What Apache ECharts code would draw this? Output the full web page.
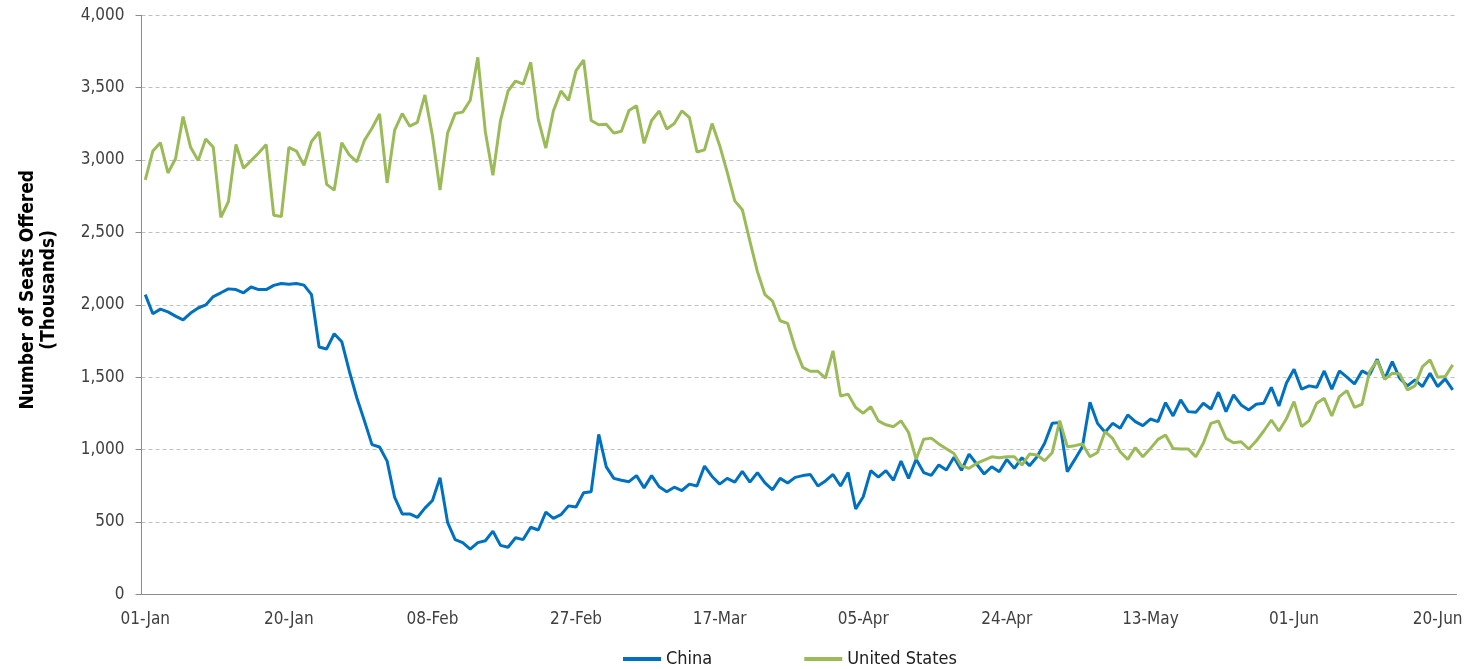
<!DOCTYPE html>
<html>
<head>
<meta charset="utf-8">
<title>Seats Offered</title>
<script src="https://cdn.jsdelivr.net/npm/echarts@6/dist/echarts.min.js"></script>
<style>
  html, body { margin: 0; padding: 0; background: #fff; }
  #chart { width: 1468px; height: 669px; }
</style>
</head>
<body>
<div id="chart"></div>
<script>
// daily, 01-Jan to 22-Jun (2020)
const startDate = [2020, 0, 1];
const dayCount = 174;
const monthNames = ['Jan', 'Feb', 'Mar', 'Apr', 'May', 'Jun', 'Jul', 'Aug', 'Sep', 'Oct', 'Nov', 'Dec'];

const china = [
  2070, 1938, 1970, 1951, 1922, 1896, 1943, 1978, 1999, 2057,
  2083, 2110, 2105, 2083, 2123, 2105, 2105, 2134, 2147, 2142,
  2147, 2136, 2070, 1708, 1695, 1800, 1745, 1541, 1356, 1198,
  1034, 1018, 920, 669, 555, 555, 531, 595, 648, 806,
  497, 378, 357, 312, 357, 370, 436, 338, 325, 391,
  378, 463, 444, 568, 524, 550, 611, 603, 701, 709,
  1105, 880, 801, 788, 778, 820, 735, 820, 743, 709,
  740, 717, 761, 748, 886, 814, 761, 801, 775, 849,
  775, 841, 769, 722, 801, 769, 808, 820, 828, 748,
  783, 828, 748, 841, 590, 674, 854, 809, 854, 788,
  920, 801, 933, 841, 822, 894, 859, 947, 857, 969,
  900, 831, 881, 847, 932, 870, 944, 888, 950, 1043,
  1181, 1186, 847, 932, 1020, 1327, 1181, 1119, 1181, 1147,
  1239, 1193, 1165, 1211, 1193, 1324, 1232, 1343, 1262, 1257,
  1320, 1280, 1396, 1262, 1377, 1308, 1273, 1313, 1320, 1430,
  1301, 1460, 1555, 1417, 1440, 1430, 1543, 1417, 1543, 1500,
  1453, 1543, 1516, 1624, 1488, 1608, 1492, 1440, 1481, 1435,
  1527, 1435, 1488, 1412
];

const unitedStates = [
  2863, 3062, 3120, 2911, 3009, 3300, 3088, 2996, 3146, 3088,
  2604, 2713, 3107, 2943, 2996, 3049, 3107, 2618, 2610, 3088,
  3062, 2964, 3128, 3194, 2832, 2792, 3120, 3035, 2988, 3136,
  3220, 3318, 2842, 3207, 3321, 3234, 3260, 3450, 3168, 2792,
  3186, 3321, 3331, 3413, 3710, 3194, 2895, 3273, 3477, 3546,
  3524, 3675, 3281, 3083, 3339, 3477, 3413, 3617, 3691, 3273,
  3244, 3247, 3186, 3199, 3342, 3375, 3115, 3273, 3339, 3215,
  3252, 3339, 3294, 3056, 3070, 3252, 3101, 2916, 2718, 2657,
  2440, 2229, 2070, 2025, 1890, 1872, 1700, 1568, 1541, 1541,
  1494, 1682, 1370, 1383, 1290, 1251, 1296, 1198, 1171, 1158,
  1198, 1118, 933, 1071, 1079, 1039, 1005, 973, 887, 870,
  904, 927, 950, 944, 950, 950, 893, 969, 962, 923,
  978, 1200, 1020, 1027, 1038, 950, 980, 1124, 1077, 985,
  932, 1013, 950, 1008, 1070, 1100, 1008, 1004, 1004, 950,
  1043, 1181, 1197, 1077, 1047, 1054, 1004, 1059, 1128, 1204,
  1128, 1213, 1331, 1158, 1200, 1320, 1354, 1232, 1366, 1407,
  1292, 1313, 1538, 1615, 1486, 1527, 1522, 1412, 1440, 1573,
  1620, 1500, 1504, 1585
];

const seriesNames = ['China', 'United States'];
const seriesColors = ['#0070C0', '#9BBB59'];

const dates = [];
for (let i = 0; i < dayCount; i++) {
  const d = new Date(startDate[0], startDate[1], startDate[2] + i);
  dates.push(String(d.getDate()).padStart(2, '0') + '-' + monthNames[d.getMonth()]);
}

const font = "'Liberation Sans Narrow', 'DejaVu Sans Condensed', 'Liberation Sans', sans-serif";
const textColor = '#404040';
const axisColor = '#8c8c8c';

const chart = echarts.init(document.getElementById('chart'));
chart.setOption({
  animation: false,
  textStyle: { fontFamily: font },
  grid: {
    left: 141.5, right: 11.5, top: 15.3, bottom: 74.7,
    containLabel: false,
    outerBoundsMode: 'none'
  },
  legend: {
    top: 645,
    left: 618,
    itemGap: 92,
    itemWidth: 38,
    itemHeight: 4,
    icon: 'rect',
    textStyle: { fontFamily: font, fontSize: 18, color: '#202020' },
    data: seriesNames
  },
  xAxis: {
    type: 'category',
    data: dates,
    boundaryGap: true,
    axisLine: { lineStyle: { color: axisColor, width: 1 } },
    axisTick: { interval: 18, length: 6, lineStyle: { color: axisColor } },
    axisLabel: { interval: 18, margin: 17, fontSize: 17, color: textColor, fontFamily: font }
  },
  yAxis: {
    type: 'value',
    min: 0,
    max: 4000,
    interval: 500,
    name: 'Number of Seats Offered\n(Thousands)',
    nameLocation: 'middle',
    nameGap: 82,
    nameTextStyle: {
      fontSize: 19, fontWeight: 'bold', color: '#000', fontFamily: font,
      lineHeight: 21, padding: [0, 0, 0, 30]
    },
    axisLine: { show: true, lineStyle: { color: axisColor, width: 1 } },
    axisTick: { show: true, length: 6, lineStyle: { color: axisColor } },
    axisLabel: {
      margin: 17,
      fontSize: 17,
      color: textColor,
      fontFamily: font,
      formatter: v => v.toLocaleString('en-US')
    },
    splitLine: { lineStyle: { color: '#c0c0c0', type: [4, 3], width: 1 } }
  },
  series: [
    {
      name: seriesNames[0],
      type: 'line',
      data: china,
      symbol: 'none',
      z: 2,
      color: seriesColors[0],
      lineStyle: { width: 3, color: seriesColors[0] }
    },
    {
      name: seriesNames[1],
      type: 'line',
      data: unitedStates,
      symbol: 'none',
      z: 3,
      color: seriesColors[1],
      lineStyle: { width: 3, color: seriesColors[1] }
    }
  ]
});
</script>
</body>
</html>
